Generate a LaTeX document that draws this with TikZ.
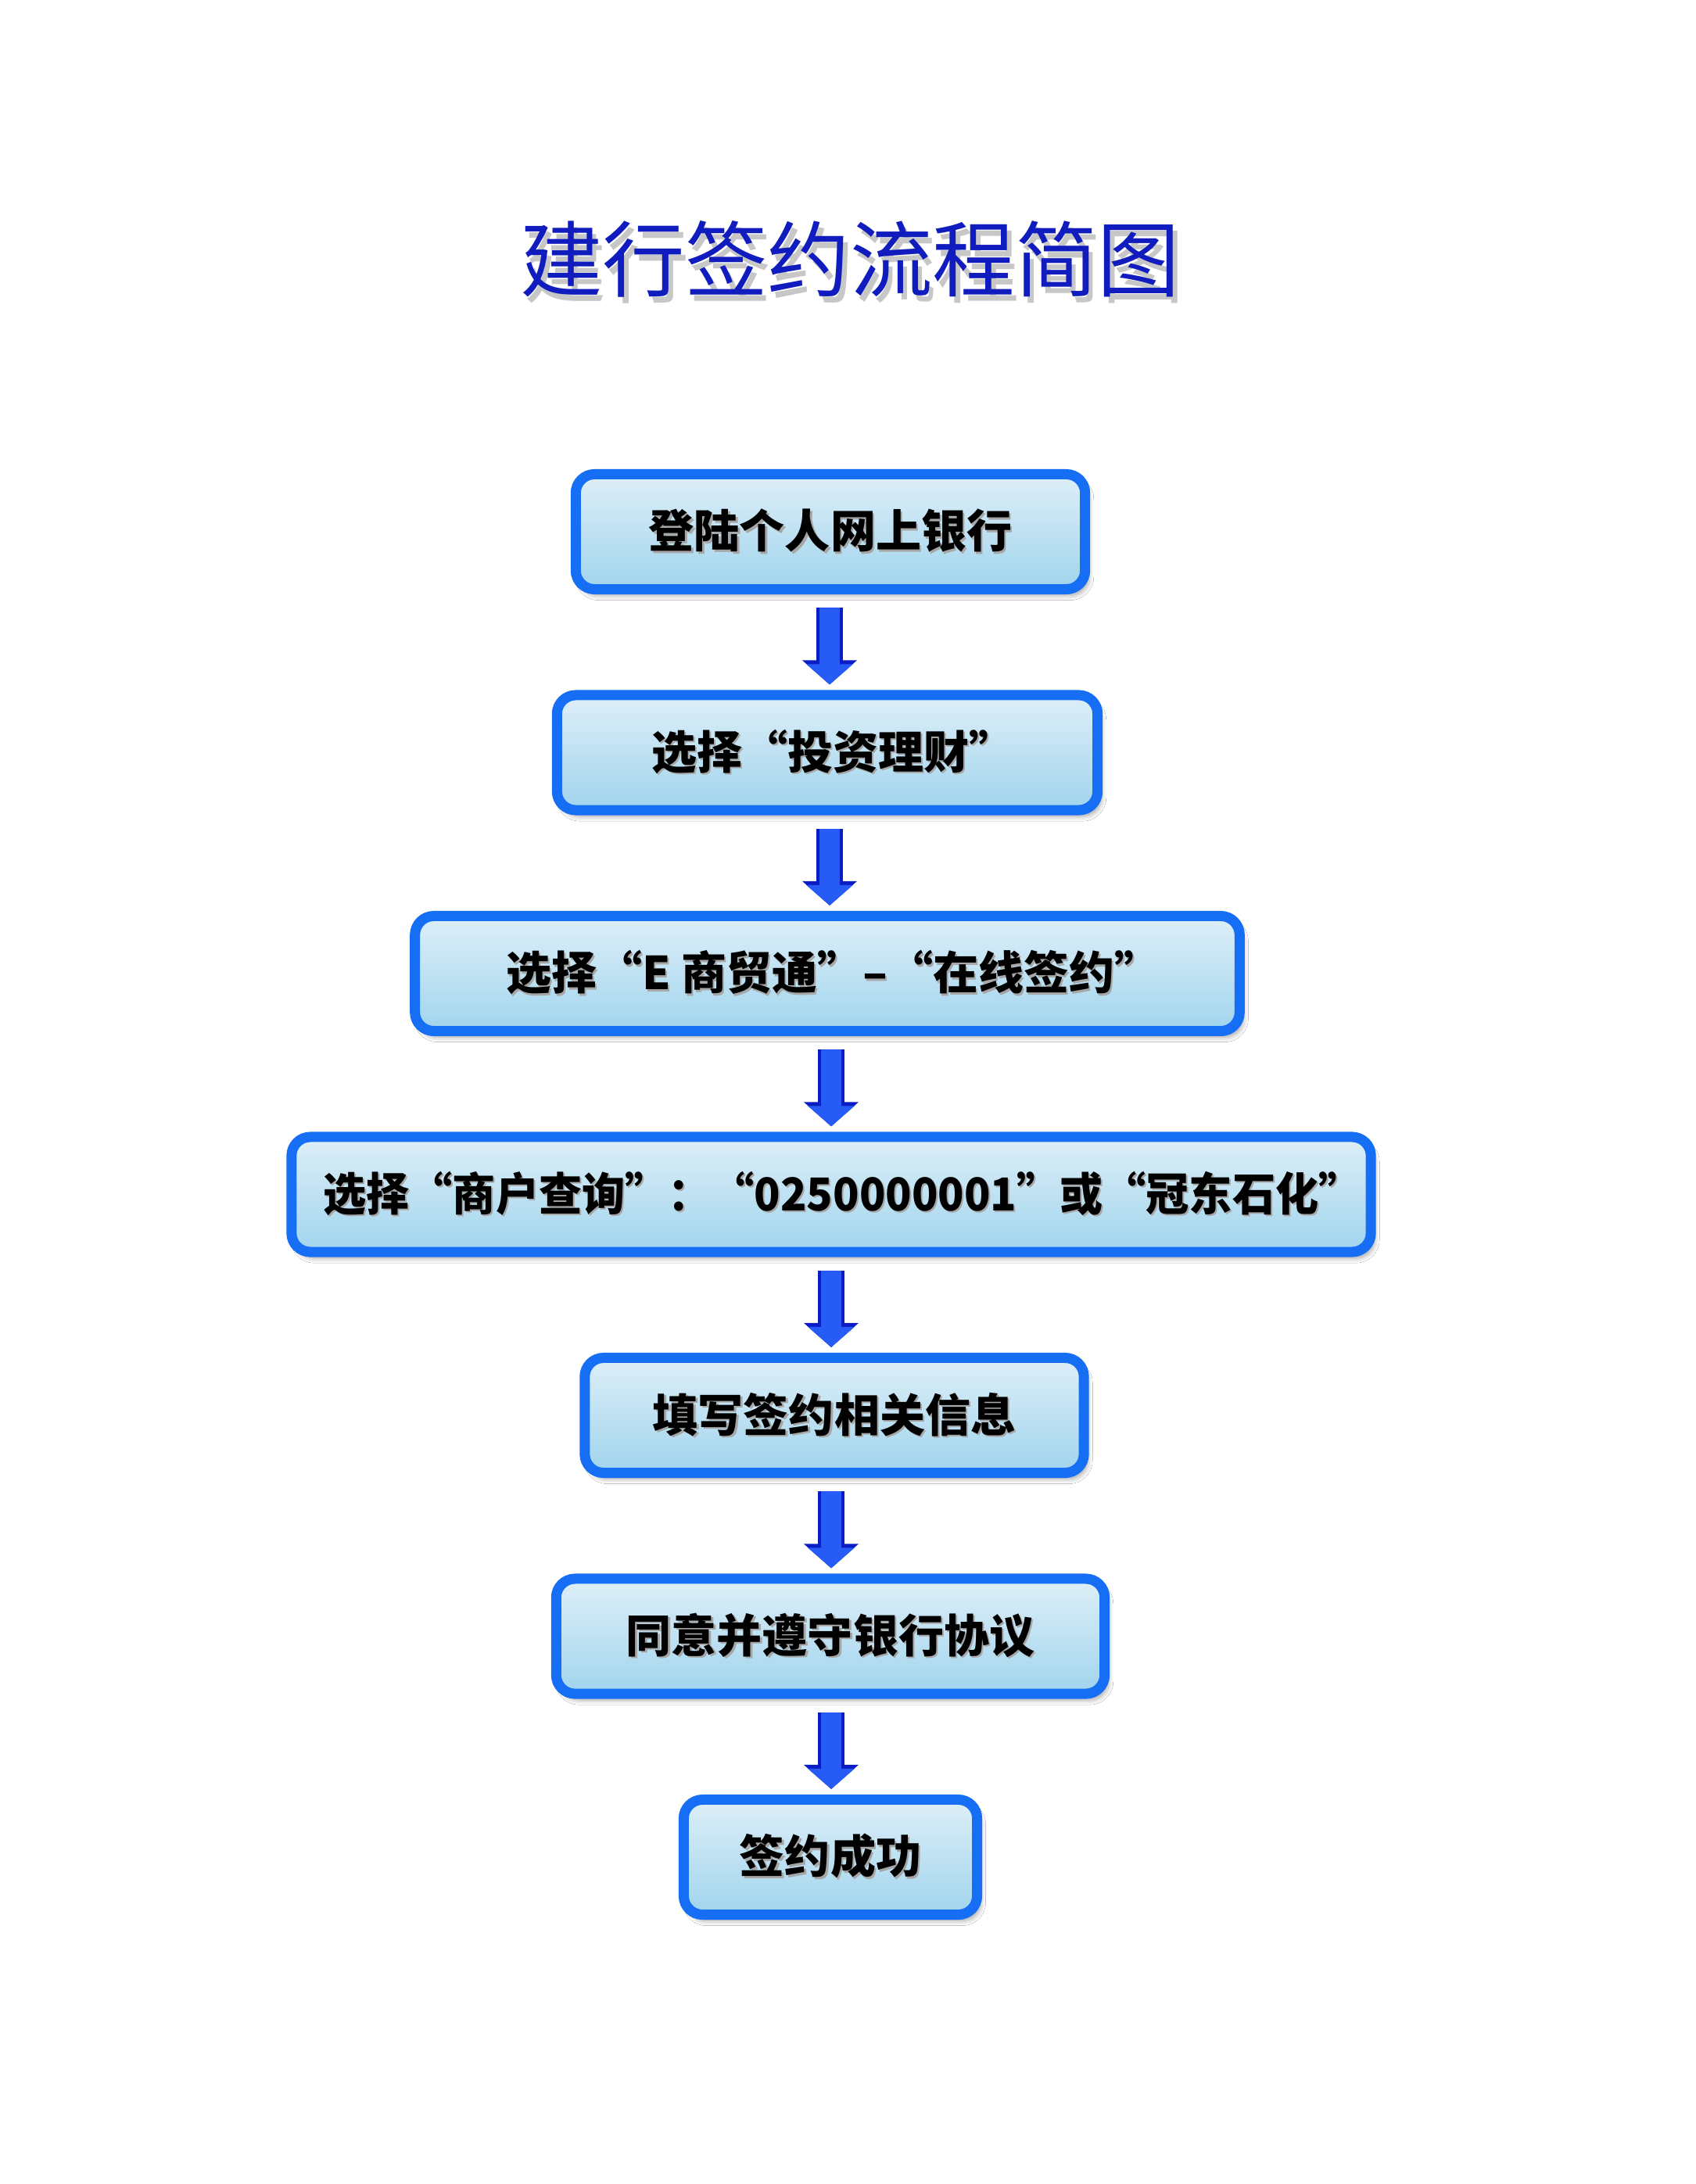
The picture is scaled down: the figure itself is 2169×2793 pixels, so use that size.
\documentclass[tikz,border=0pt]{standalone}
\usepackage{fontspec}
\usepackage{graphicx}
\newfontfamily\cjk{Noto Sans CJK SC}
\usetikzlibrary{shadows.blur, arrows.meta}

\definecolor{stepline}{RGB}{22,110,245}
\definecolor{steptop}{RGB}{222,239,248}
\definecolor{stepbot}{RGB}{160,212,237}
\definecolor{flowblue}{RGB}{38,92,245}
\definecolor{flowdark}{RGB}{12,28,196}
\definecolor{titleblue}{RGB}{16,28,190}

% text with a soft grey copy behind it
\newcommand\shtext[1]{\makebox[0pt][l]{\kern0.6pt\raisebox{-0.7pt}{\textcolor{black!35}{#1}}}#1}
\newcommand\shtitle[1]{\makebox[0pt][l]{\kern1.6pt\raisebox{-2.2pt}{\textcolor{black!22}{#1}}}#1}

\tikzset{
  stepbox/.style={draw=stepline, line width=0.13cm, rounded corners=0.24cm,
    top color=steptop, bottom color=stepbot, minimum height=1.47cm,
    font=\cjk\bfseries\fontsize{16.5}{20}\selectfont,
    blur shadow={shadow xshift=0.05cm, shadow yshift=-0.08cm, shadow opacity=35, shadow blur steps=6}},
  flow/.style={line width=0.26cm, draw=flowblue,
    -{Triangle[width=0.58cm, length=0.26cm]},
    shorten <=0.17cm, shorten >=0.07cm,
    preaction={draw=flowdark, line width=0.34cm,
      -{Triangle[width=0.68cm, length=0.31cm]}}},
}

\begin{document}
\begin{tikzpicture}[x=0.01cm, y=-0.01cm]
    \useasboundingbox[fill=white] (0,0) rectangle (2169,2793);
    % title
    \node[font=\cjk\fontsize{30}{36}\selectfont, text=titleblue] (title) at (1087,335) {\shtitle{建行签约流程简图}};
    % steps
    \node[stepbox, minimum width=6.51cm] (login) at (1062,680) {\shtext{登陆个人网上银行}};
    \node[stepbox, minimum width=6.91cm] (invest) at (1058,962.5) {\hspace{0.25em}\shtext{选择“投资理财”}};
    \node[stepbox, minimum width=10.54cm] (ebiz) at (1058,1245) {\hspace{0.25em}\shtext{选择“E 商贸通”–“在线签约”}};
    \node[stepbox, minimum width=13.71cm] (query) at (1063,1527.5) {\hspace{0.5em}\scalebox{0.95}[1]{\shtext{选择“商户查询”：“0250000001”或“冠东石化”}}};
    \node[stepbox, minimum width=6.38cm] (fillin) at (1067,1810) {\shtext{填写签约相关信息}};
    \node[stepbox, minimum width=7.01cm] (agree) at (1062,2092.5) {\shtext{同意并遵守银行协议}};
    \node[stepbox, minimum width=3.75cm] (done) at (1062,2375) {\shtext{签约成功}};
    % arrows
    \draw[flow] (login.south -| 1061,0) -- (invest.north -| 1061,0);
    \draw[flow] (invest.south -| 1061,0) -- (ebiz.north -| 1061,0);
    \draw[flow] (ebiz.south -| 1063,0) -- (query.north -| 1063,0);
    \draw[flow] (query.south -| 1063,0) -- (fillin.north -| 1063,0);
    \draw[flow] (fillin.south -| 1063,0) -- (agree.north -| 1063,0);
    \draw[flow] (agree.south -| 1063,0) -- (done.north -| 1063,0);
\end{tikzpicture}
\end{document}
